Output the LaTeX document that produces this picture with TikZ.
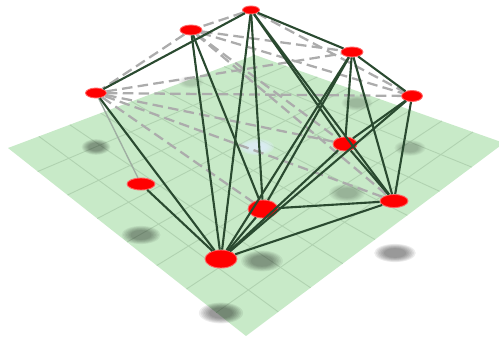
\documentclass[tikz,border=0pt]{standalone}
\usepackage{tikz}
\usetikzlibrary{shapes.geometric,calc}

\definecolor{planegreen}{RGB}{200,234,200}
\definecolor{gridgreen}{RGB}{176,210,176}
\definecolor{edgedark}{RGB}{42,74,48}
\definecolor{glowblue}{RGB}{222,238,250}

\begin{document}
\begin{tikzpicture}[x=0.02cm,y=-0.02cm,
  vertex/.style={ellipse, fill=red, draw=red!60!white, line width=0.5pt, inner sep=0pt},
  bond/.style={draw=edgedark, line width=1.2pt},
  faint/.style={draw=edgedark!45, line width=0.8pt},
  dashbond/.style={draw=gray!65, line width=1.3pt, dash pattern=on 6pt off 3pt}]
\clip (0,0) rectangle (499,341);
% ground plane
\coordinate (plL) at (8,148);
\coordinate (plT) at (255,55);
\coordinate (plR) at (504,143);
\coordinate (plB) at (246,336);
\fill[planegreen] (plL) -- (plT) -- (plR) -- (plB) -- cycle;
\foreach \t in {0.125,0.25,...,0.9} {
  \draw[gridgreen, line width=0.5pt] ($(plL)!\t!(plT)$) -- ($(plB)!\t!(plR)$);
  \draw[gridgreen, line width=0.5pt] ($(plL)!\t!(plB)$) -- ($(plT)!\t!(plR)$);
}
% shadows
\foreach \sx/\sy/\rx/\ry/\op in {96/147/11/6/0.06, 141/235/15/7/0.06, 262/261/16/8/0.06,
    395/253/16/7/0.07, 221/313/17/8/0.07, 347/193/14/7/0.035, 410/148/12/6/0.035,
    357/103/12/6/0.03, 191/82/10/5/0.02} {
  \foreach \k in {0,...,6}
    \fill[black, opacity=\op] (\sx,\sy) ellipse ({\rx*(1.3-0.1*\k)} and {\ry*(1.3-0.1*\k)});
}
\foreach \k in {0,...,4}
  \fill[glowblue, opacity=0.3] (257,147) ellipse ({17-2*\k} and {8-\k});

% atoms
\node[vertex, minimum width=0.34cm, minimum height=0.16cm] (A) at (251,10) {};
\node[vertex, minimum width=0.44cm, minimum height=0.20cm] (B) at (191,30) {};
\node[vertex, minimum width=0.44cm, minimum height=0.20cm] (C) at (352,52) {};
\node[vertex, minimum width=0.42cm, minimum height=0.20cm] (D) at (96,93) {};
\node[vertex, minimum width=0.42cm, minimum height=0.22cm] (E) at (412,96) {};
\node[vertex, minimum width=0.48cm, minimum height=0.28cm] (F) at (345,144) {};
\node[vertex, minimum width=0.56cm, minimum height=0.24cm] (G) at (141,184) {};
\node[vertex, minimum width=0.60cm, minimum height=0.36cm] (H) at (263,209) {};
\node[vertex, minimum width=0.56cm, minimum height=0.26cm] (I) at (394,201) {};
\node[vertex, minimum width=0.64cm, minimum height=0.36cm] (J) at (221,259) {};

% bonds
\foreach \a/\b in {A/B, A/E, B/D, B/C, B/E, B/F, B/I, D/C, D/E, D/F, D/H, D/I}
  \draw[dashbond] (\a) -- (\b);
\draw[faint] (D) -- (G);
\foreach \a/\b in {A/D, A/C, A/F, A/I, A/H, A/J, B/J, B/H, C/E, C/F, C/I, C/H, C/J,
    E/F, E/I, E/J, F/I, F/J, H/J, I/H, I/J, G/J, D/J}
  \draw[bond] (\a) -- (\b);
\end{tikzpicture}
\end{document}
